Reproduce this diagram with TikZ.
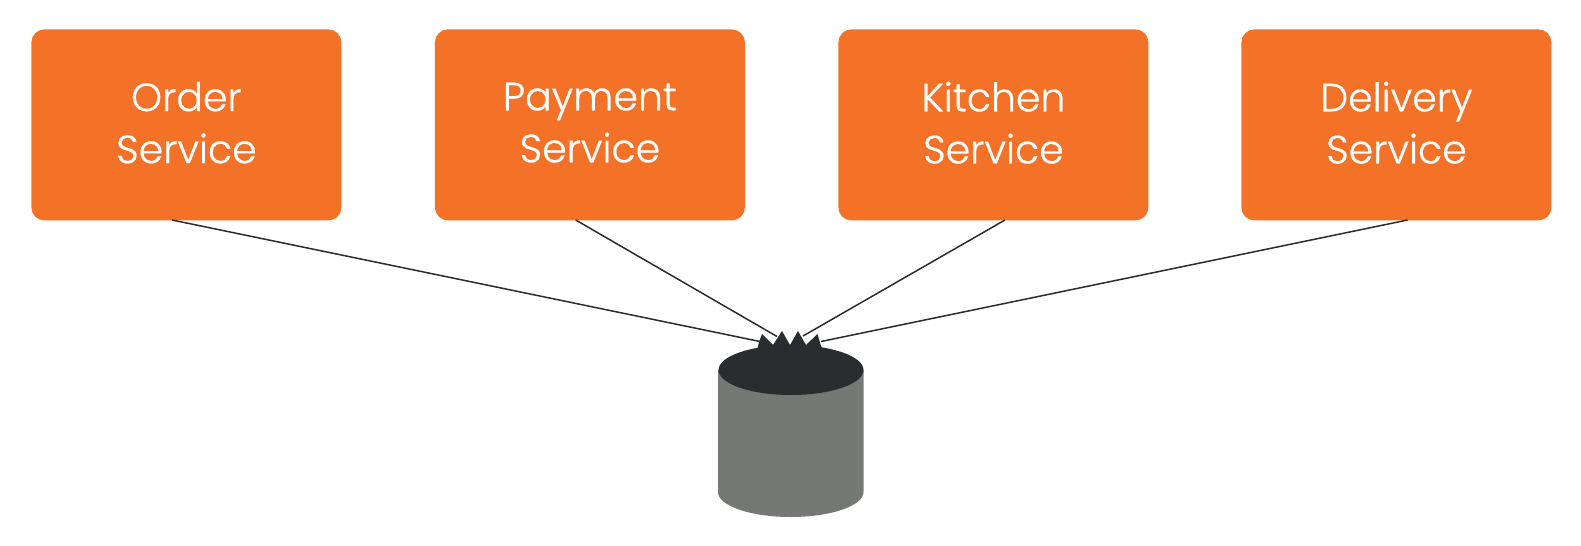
\documentclass[tikz,border=0pt]{standalone}
\usepackage{fontspec}
\setmainfont{Poppins Light}[RawFeature={embolden=0.5}]
\usetikzlibrary{shapes.geometric}
\definecolor{boxorange}{HTML}{F47228}
\definecolor{dbdark}{HTML}{2B2C2E}
\definecolor{dbgrey}{HTML}{767876}
\tikzset{
  svcbox/.style={fill=boxorange,draw=none,rounded corners=6.5pt,minimum width=155pt,minimum height=95.5pt,inner sep=0pt,text=white,align=center,font=\fontsize{19.7}{26}\selectfont,text depth=2.4pt,anchor=north west},
  link/.style={draw=dbdark,line width=0.75pt},
  dbtop/.style={ellipse,fill=dbdark,draw=none,minimum width=72.5pt,minimum height=25pt,inner sep=0pt}
}
\begin{document}
\begin{tikzpicture}[x=0.5pt,y=-0.5pt]
\useasboundingbox (0,0) rectangle (1581,546);
\node[svcbox] (order) at (31,29) {Order\\Service};
\node[svcbox] (payment) at (434.5,29) {Payment\\Service};
\node[svcbox] (kitchen) at (838,29) {Kitchen\\Service};
\node[svcbox] (delivery) at (1241,29) {Delivery\\Service};
% cylinder body
\fill[dbgrey] (718,370) -- (718,492) arc[start angle=180,end angle=360,x radius=72.75,y radius=-25] -- (863.5,370) -- cycle;
\node[dbtop] (db) at (791,370) {};
% arrowheads
\fill[dbdark] (757,350) -- (759,342) -- (762,334) -- (773,345) -- (782,331) -- (790,345) -- (798,331) -- (806,345) -- (817.5,334) -- (821,346) -- (823,350) -- (791,356) -- cycle;
\coordinate (e1) at (760,341.5);
\coordinate (e2) at (777,336.5);
\coordinate (e3) at (803,336);
\coordinate (e4) at (821,341.5);
\coordinate (s1) at (172,220);
\coordinate (s2) at (575.7,220);
\coordinate (s3) at (1005,220);
\coordinate (s4) at (1407.6,220);
\draw[link] (s1) -- (e1);
\draw[link] (s2) -- (e2);
\draw[link] (s3) -- (e3);
\draw[link] (s4) -- (e4);
\end{tikzpicture}
\end{document}
